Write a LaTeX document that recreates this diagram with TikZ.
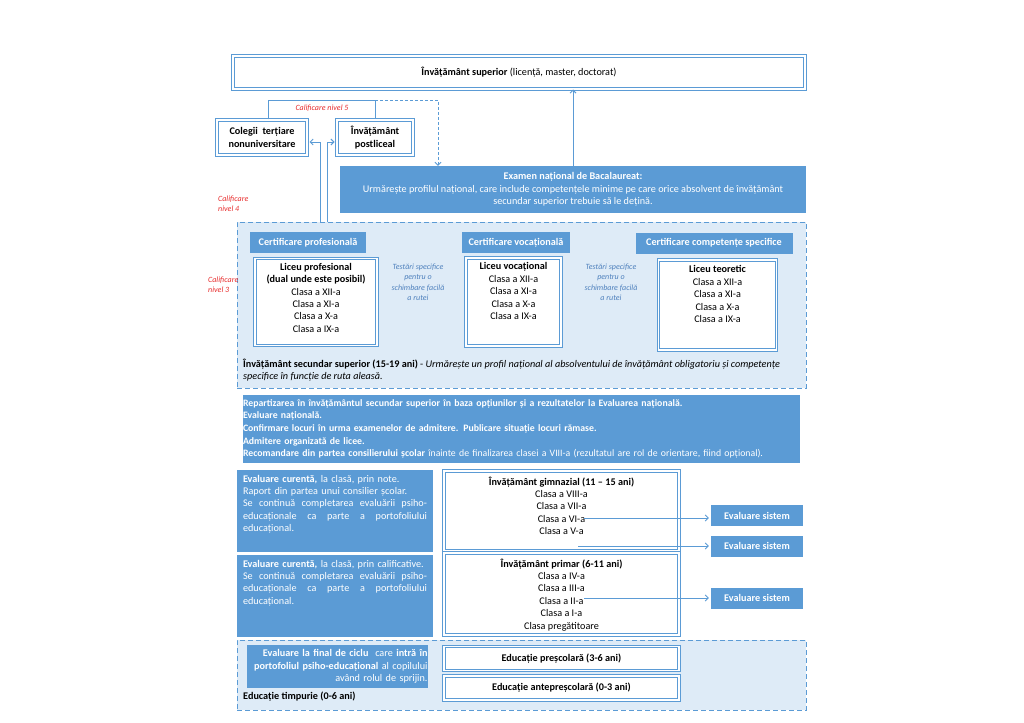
\documentclass[tikz,border=0pt]{standalone}
\usepackage{fontspec}
\setmainfont{Carlito}
\usetikzlibrary{arrows.meta,positioning}
\definecolor{midblue}{RGB}{91,155,213}
\definecolor{paleblue}{RGB}{222,235,247}
\definecolor{califred}{RGB}{232,45,45}
\definecolor{hintblue}{RGB}{79,129,189}
\newcommand{\spreadline}[1]{\leavevmode\hbox to 184pt{#1}}

\begin{document}
\begin{tikzpicture}[
    x=1pt, y=-1pt,
    >={Straight Barb[length=3pt,width=6pt]},
    every node/.style={font=\fontsize{10.2}{12.4}\selectfont},
    boldtext/.style={font=\fontsize{10.2}{12.4}\selectfont\bfseries},
    dbox/.style={draw=midblue, double=white, double distance=1.4pt, line width=1pt, fill=white, align=center, inner sep=0pt},
    bluebox/.style={fill=midblue, text=white, inner sep=0pt},
    zone/.style={draw=midblue, dash pattern=on 5pt off 3pt, line width=1pt, fill=paleblue},
    txt/.style={inner sep=0pt, align=center},
    calif/.style={text=califred, inner sep=0pt, align=left, font=\fontsize{8}{10}\selectfont\itshape},
    hint/.style={text=hintblue, inner sep=0pt, align=center, font=\fontsize{8}{10.2}\selectfont\itshape},
    conn/.style={draw=midblue, line width=0.9pt}
  ]
  \useasboundingbox[fill=white] (0,0) rectangle (1024,722);

  % higher education
  \node[dbox, minimum width=572pt, minimum height=33pt] (sup) at (519,72.5) {\textbf{Învățământ superior} (licență, master, doctorat)};
  \node[dbox, boldtext, minimum width=90pt, minimum height=35pt] (coleg) at (262,137.5) {Colegii\ \ terțiare\\nonuniversitare};
  \node[dbox, boldtext, minimum width=76pt, minimum height=35pt] (postl) at (375,137.5) {Învățământ\\postliceal};
  \node[bluebox, align=center, minimum width=466pt, minimum height=47pt] (exam) at (573,189.5) {\textbf{Examen național de Bacalaureat:}\\Urmărește profilul național, care include competențele minime pe care orice absolvent de învățământ\\secundar superior trebuie să le dețină.};

  \coordinate (k5) at (438,100);
  \draw[conn] ([xshift=6pt]coleg.north) |- (postl.north |- k5) -- (postl.north);
  \draw[conn, dash pattern=on 3pt off 2pt, ->] (postl.north |- k5) -- (k5) -- (exam.north -| k5);
  \draw[conn, ->] (exam.north) -- (exam.north |- sup.south);
  \node[calif] (c5) at (322,108) {Calificare nivel 5};

  % upper secondary
  \node[zone, minimum width=569pt, minimum height=166pt] (sec) at (521.5,305) {};
  \coordinate (q1) at (320,142);
  \coordinate (q2) at (327,142);
  \draw[conn, ->] (sec.north -| q1) -- (q1) -- ([xshift=2pt]q1 -| coleg.east);
  \draw[conn, ->] (sec.north -| q2) -- (q2) -- ([xshift=-2pt]q2 -| postl.west);
  \node[calif, anchor=north west] (c4) at (218,196) {Calificare\\nivel 4};

  \node[bluebox, boldtext, minimum width=116pt, minimum height=21pt] (certp) at (308,242.5) {Certificare profesională};
  \node[bluebox, boldtext, minimum width=108pt, minimum height=21pt] (certv) at (516,242.5) {Certificare vocațională};
  \node[bluebox, boldtext, minimum width=157pt, minimum height=21pt] (certc) at (714,243) {Certificare competențe specifice};

  \node[dbox, minimum width=122pt, minimum height=87pt] (lprof) at (316,302) {};
  \node[txt, below=5pt of lprof.north] (tprof) {\textbf{Liceu profesional}\\\textbf{(dual unde este posibil)}\\Clasa a XII-a\\Clasa a XI-a\\Clasa a X-a\\Clasa a IX-a};
  \node[dbox, minimum width=95pt, minimum height=88pt] (lvoc) at (513.5,302) {};
  \node[txt, below=5pt of lvoc.north] (tvoc) {\textbf{Liceu vocațional}\\Clasa a XII-a\\Clasa a XI-a\\Clasa a X-a\\Clasa a IX-a};
  \node[dbox, minimum width=118pt, minimum height=90pt] (lteo) at (717.5,305) {};
  \node[txt, below=6pt of lteo.north] (tteo) {\textbf{Liceu teoretic}\\Clasa a XII-a\\Clasa a XI-a\\Clasa a X-a\\Clasa a IX-a};

  \node[hint, anchor=north] (h1) at (418,264) {Testări specifice\\pentru o\\schimbare facilă\\a rutei};
  \node[hint, anchor=north] (h2) at (611,264) {Testări specifice\\pentru o\\schimbare facilă\\a rutei};

  \node[txt, align=left, anchor=north west] (tsec) at (243,359) {\textbf{Învățământ secundar superior (15-19 ani)} - \textit{Urmărește un profil național al absolventului de învățământ obligatoriu și competențe}\\\textit{specifice în funcție de ruta aleasă.}};
  \node[calif, anchor=north west] (c3) at (208,277) {Calificare\\nivel 3};

  % admission
  \node[bluebox, text width=557pt, align=left, minimum height=68pt, font=\fontsize{9.8}{12.6}\selectfont] (rep) at (521.5,429) {\textbf{Repartizarea în învățământul secundar superior în baza opțiunilor și a rezultatelor la Evaluarea națională.}\\\textbf{Evaluare națională.}\\\textbf{Confirmare locuri în urma examenelor de admitere. Publicare situație locuri rămase.}\\\textbf{Admitere organizată de licee.}\\\textbf{Recomandare din partea consilierului școlar} înainte de finalizarea clasei a VIII-a (rezultatul are rol de orientare, fiind opțional).};

  % lower secondary and primary
  \node[bluebox, minimum width=196pt, minimum height=82pt] (ev1) at (335,511) {};
  \node[txt, text=white, text width=184pt, align=left, below=5pt of ev1.north] (tev1) {\textbf{Evaluare curentă,} la clasă, prin note.\\Raport din partea unui consilier școlar.\\\spreadline{Se\hfill continuă\hfill completarea\hfill evaluării\hfill psiho-}\\\spreadline{educaționale\hfill ca\hfill parte\hfill a\hfill portofoliului}\\educațional.};
  \node[dbox, minimum width=235pt, minimum height=80pt] (gim) at (561.5,511) {};
  \node[txt, below=6pt of gim.north] (tgim) {\textbf{Învățământ gimnazial (11 – 15 ani)}\\Clasa a VIII-a\\Clasa a VII-a\\Clasa a VI-a\\Clasa a V-a};

  \node[bluebox, minimum width=196pt, minimum height=82pt] (ev2) at (335,596) {};
  \node[txt, text=white, text width=184pt, align=left, below=5pt of ev2.north] (tev2) {\textbf{Evaluare curentă,} la clasă, prin calificative.\\\spreadline{Se\hfill continuă\hfill completarea\hfill evaluării\hfill psiho-}\\\spreadline{educaționale\hfill ca\hfill parte\hfill a\hfill portofoliului}\\educațional.};
  \node[dbox, minimum width=235pt, minimum height=82pt] (prim) at (561.5,594) {};
  \node[txt, below=6pt of prim.north] (tprim) {\textbf{Învățământ primar (6-11 ani)}\\Clasa a IV-a\\Clasa a III-a\\Clasa a II-a\\Clasa a I-a\\Clasa pregătitoare};

  \node[bluebox, boldtext, minimum width=92pt, minimum height=21pt] (es1) at (757,515.5) {Evaluare sistem};
  \node[bluebox, boldtext, minimum width=92pt, minimum height=21pt] (es2) at (757,546) {Evaluare sistem};
  \node[bluebox, boldtext, minimum width=92pt, minimum height=21pt] (es3) at (757,598) {Evaluare sistem};
  \coordinate (a1) at (584,518);
  \coordinate (a2) at (578,546);
  \coordinate (a3) at (584,598);
  \draw[conn, ->, shorten >=2pt] (a1) -- (a1 -| es1.west);
  \draw[conn, ->, shorten >=2pt] (a2) -- (a2 -| es2.west);
  \draw[conn, ->, shorten >=2pt] (a3) -- (a3 -| es3.west);

  % early education
  \node[zone, minimum width=569pt, minimum height=70pt] (tim) at (521.5,675) {};
  \node[bluebox, text width=181pt, align=right, minimum height=43pt] (evf) at (337,666.5) {\textbf{Evaluare la final de ciclu}\ \ care \textbf{intră în}\\\textbf{portofoliul psiho-educațional} al copilului\\având rolul de sprijin.};
  \node[txt, boldtext, anchor=west] (ttim) at (243,697) {Educație timpurie (0-6 ani)};
  \node[dbox, boldtext, minimum width=235pt, minimum height=24pt] (presc) at (561.5,658.5) {Educație preșcolară (3-6 ani)};
  \node[dbox, boldtext, minimum width=235pt, minimum height=24pt] (antep) at (561.5,688) {Educație antepreșcolară (0-3 ani)};
\end{tikzpicture}
\end{document}
